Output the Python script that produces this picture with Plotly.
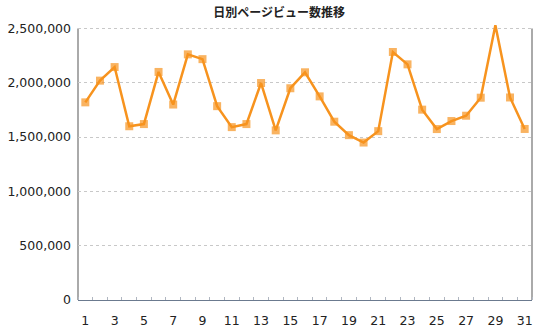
import plotly.graph_objects as go

# Daily page views for one month
days = list(range(1, 32))
page_views = [
    1820000, 2020000, 2145000, 1600000, 1620000, 2100000, 1800000, 2262000,
    2218000, 1785000, 1592000, 1620000, 1998000, 1562000, 1950000, 2097000,
    1875000, 1642000, 1518000, 1450000, 1555000, 2284000, 2170000, 1753000,
    1574000, 1648000, 1697000, 1863000, 2530000, 1865000, 1575000,
]
y_tick_values = [0, 500000, 1000000, 1500000, 2000000, 2500000]
x_tick_labels = [d for d in days if d % 2 == 1]
title_text = "日別ページビュー数推移"

axis_top = y_tick_values[-1]
ORANGE = "#F7931E"

# markers above the top gridline are hidden, only the line pokes out
marker_sizes = [0 if v > axis_top else 8 for v in page_views]

fig = go.Figure()
fig.add_trace(go.Scatter(
    x=days, y=page_views, mode="lines+markers",
    line=dict(color=ORANGE, width=2.5),
    marker=dict(symbol="square", size=marker_sizes, color=ORANGE,
                line=dict(width=0)),
    cliponaxis=False, hoverinfo="x+y",
))

fig.update_layout(
    width=540, height=331,
    margin=dict(l=78, r=8, t=22, b=31, autoexpand=False),
    paper_bgcolor="white", plot_bgcolor="white",
    showlegend=False,
    font=dict(family="DejaVu Sans", size=12.5, color="#222222"),
    title=dict(text="<b>" + title_text + "</b>", x=0.517, xref="container",
               xanchor="center", y=1 - 13 / 331, yref="container",
               yanchor="middle",
               font=dict(family="Noto Sans CJK JP", size=12, color="#222222")),
    xaxis=dict(
        range=[0.5, 31.5], tickmode="array", tickvals=x_tick_labels,
        ticktext=[str(d) for d in x_tick_labels], ticks="",
        showgrid=False, zeroline=False, automargin=False,
        showline=True, linecolor="#6b7a8f", linewidth=1,
        ticklabelstandoff=9,
        minor=dict(ticks="inside", ticklen=3, tickcolor="#b0b6c0",
                   tickwidth=1, tick0=0.5, dtick=1, showgrid=False),
        fixedrange=True,
    ),
    yaxis=dict(
        range=[0, 2560000], tickmode="array", tickvals=y_tick_values,
        ticktext=[f"{v:,}" for v in y_tick_values], ticks="",
        showgrid=True, gridcolor="#c8c8c8", griddash="dot", gridwidth=1,
        zeroline=False, showline=False, ticklabelstandoff=6,
        automargin=False, fixedrange=True,
    ),
)

# left and right frame lines stop at the top gridline
for xpos in (0, 1):
    fig.add_shape(type="line", xref="paper", yref="y", x0=xpos, x1=xpos,
                  y0=0, y1=axis_top, line=dict(color="#aaaaaa", width=2),
                  layer="below")

fig.write_html("out.html")
